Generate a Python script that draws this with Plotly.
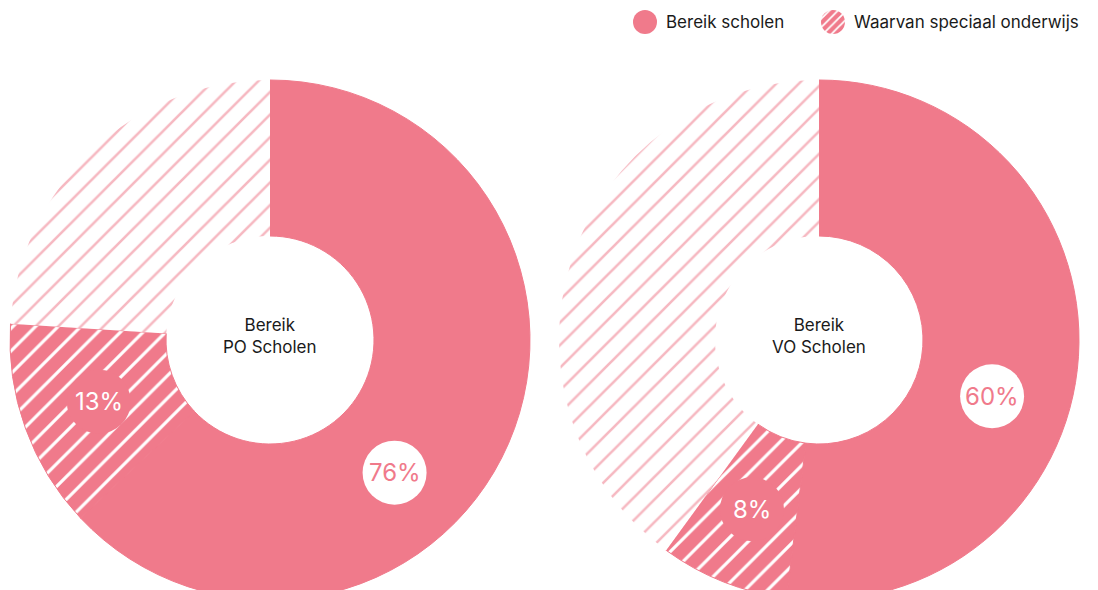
import math
import plotly.graph_objects as go

# Share of schools reached, and the special-education part of that reach (percent)
groups = ["PO Scholen", "VO Scholen"]
reach = [76, 60]
special = [13, 8]
legend_labels = ["Bereik scholen", "Waarvan speciaal onderwijs"]

PINK = "#F07A8B"
PINK_LIGHT = "#F6B8C1"
WHITE = "#FFFFFF"
INK = "#1A1A1A"
FONT = "Inter"

W, H = 1098, 600
R = 260
HOLE = 0.4
centers = [(270, 340), (819, 340)]
LABEL_D = 64


def px_x(x):
    return x / W


def px_y(y):
    return 1 - y / H


fig = go.Figure()
shapes = []
annotations = []

for name, total, sub, (cx, cy) in zip(groups, reach, special, centers):
    values = [total - sub, sub, 100 - total]
    fig.add_trace(go.Pie(
        values=values,
        labels=["Bereik", "Speciaal", "Rest"],
        sort=False,
        direction="clockwise",
        rotation=0,
        hole=HOLE,
        textinfo="none",
        hoverinfo="skip",
        showlegend=False,
        domain=dict(x=[px_x(cx - R), px_x(cx + R)], y=[px_y(cy + R), px_y(cy - R)]),
        marker=dict(
            colors=[PINK, PINK, WHITE],
            line=dict(width=1, color=[PINK, PINK, "rgba(0,0,0,0)"]),
            pattern=dict(
                shape=["", "/", "/"],
                fgcolor=[PINK, WHITE, PINK_LIGHT],
                bgcolor=[PINK, PINK, WHITE],
                size=[16, 16, 16],
                solidity=[0.2, 0.2, 0.16],
                fillmode="replace",
            ),
        ),
    ))

    # Centre caption
    annotations.append(dict(
        x=px_x(cx), y=px_y(cy), xref="paper", yref="paper",
        xanchor="center", yanchor="middle", yshift=4,
        text=f"Bereik<br>{name}", showarrow=False,
        font=dict(family=FONT, size=17, color=INK), align="center",
    ))

    # Value badges placed at the middle of each arc on the ring's midline
    r_mid = R * (1 + HOLE) / 2
    badges = [
        (total / 2, f"{total}%", WHITE, PINK),
        (total - sub / 2, f"{sub}%", PINK, WHITE),
    ]
    for frac, txt, fill, fcol in badges:
        theta = math.radians(frac / 100 * 360)
        bx = cx + r_mid * math.sin(theta)
        by = cy - r_mid * math.cos(theta)
        shapes.append(dict(
            type="circle", layer="above",
            xref="paper", yref="paper",
            xsizemode="pixel", ysizemode="pixel",
            xanchor=px_x(bx), yanchor=px_y(by),
            x0=-LABEL_D / 2, x1=LABEL_D / 2, y0=-LABEL_D / 2, y1=LABEL_D / 2,
            fillcolor=fill, line=dict(width=0),
        ))
        annotations.append(dict(
            x=px_x(bx), y=px_y(by), xref="paper", yref="paper",
            xanchor="center", yanchor="middle",
            text=txt, showarrow=False,
            font=dict(family=FONT, size=24, color=fcol),
        ))

# Legend: small round swatches drawn as single-slice pies
legend_items = [
    (legend_labels[0], 645, dict(shape="", fgcolor=PINK, bgcolor=PINK)),
    (legend_labels[1], 833, dict(shape="/", fgcolor=WHITE, bgcolor=PINK, size=6, solidity=0.3)),
]
LEG_Y = 22
LEG_R = 12
for label, lx, pat in legend_items:
    fig.add_trace(go.Pie(
        values=[1], labels=[label], sort=False, textinfo="none", hoverinfo="skip",
        showlegend=False,
        domain=dict(x=[px_x(lx - LEG_R), px_x(lx + LEG_R)], y=[px_y(LEG_Y + LEG_R), px_y(LEG_Y - LEG_R)]),
        marker=dict(colors=[PINK], line=dict(width=0), pattern=dict(fillmode="replace", **pat)),
    ))
    annotations.append(dict(
        x=px_x(lx + LEG_R + 7), y=px_y(LEG_Y), xref="paper", yref="paper",
        xanchor="left", yanchor="middle", text=label, showarrow=False,
        font=dict(family=FONT, size=17, color=INK),
    ))

fig.update_layout(
    width=W, height=H,
    margin=dict(l=0, r=0, t=0, b=0),
    paper_bgcolor=WHITE, plot_bgcolor=WHITE,
    shapes=shapes, annotations=annotations,
    showlegend=False,
)

fig.write_html(
    "out.html",
    config=dict(displayModeBar=False),
    post_script="document.body.style.margin='0';document.body.style.overflow='hidden';",
)
